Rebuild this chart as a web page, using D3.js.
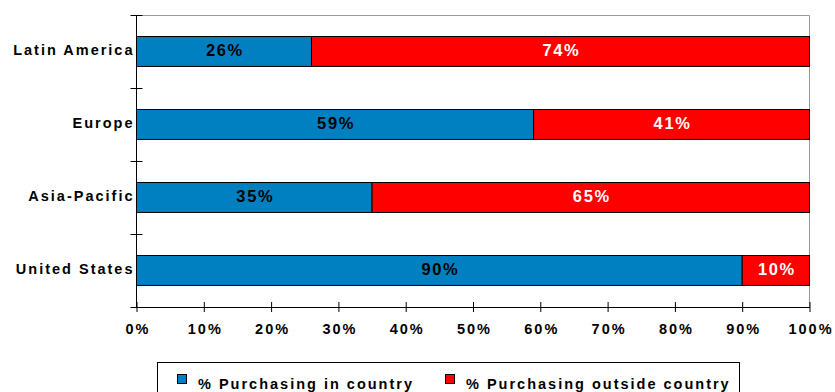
<!DOCTYPE html>
<html>
<head>
<meta charset="utf-8">
<script src="https://cdn.jsdelivr.net/npm/d3@7"></script>
<style>
  body { margin: 0; background: #fff; }
  svg { display: block; font-family: "Liberation Sans", Arial, sans-serif; font-weight: bold; }
</style>
</head>
<body>
<div id="chart"></div>
<script>
// Données
const regions   = ["Latin America", "Europe", "Asia-Pacific", "United States"];
const inCountry  = [26, 59, 35, 90];
const outCountry = [74, 41, 65, 10];
const xTicks = [0, 10, 20, 30, 40, 50, 60, 70, 80, 90, 100];
const seriesNames = ["% Purchasing in country", "% Purchasing outside country"];
const COLORS = ["#0080C0", "#FF0000"];
const TEXT_COLORS = ["#000", "#fff"];

const width = 835, height = 392;
const plotL = 136.5, plotR = 809.5, plotT = 15, plotB = 307;

const svg = d3.select("#chart").append("svg")
  .attr("width", width).attr("height", height);

const x = d3.scaleLinear().domain([0, 100]).range([plotL, plotR]);
const y = d3.scaleBand().domain(regions).range([plotT, plotB])
  .paddingInner(0.59).paddingOuter(0.295);

// cadre gris haut / droite
svg.append("path")
  .attr("d", `M${plotL},${plotT + 0.5}H${plotR}V${plotB}`)
  .attr("fill", "none").attr("stroke", "#999").attr("stroke-width", 1);

// segments empilés
const stacked = regions.map((r, i) => {
  const a = inCountry[i], b = outCountry[i];
  return [
    { region: r, s: 0, x0: 0, x1: a, v: a },
    { region: r, s: 1, x0: a, x1: a + b, v: b },
  ];
}).flat();

svg.append("g").selectAll("rect")
  .data(stacked)
  .join("rect")
    .attr("x", d => x(d.x0))
    .attr("y", d => Math.floor(y(d.region)) + 0.5)
    .attr("width", d => x(d.x1) - x(d.x0))
    .attr("height", y.bandwidth())
    .attr("fill", d => COLORS[d.s])
    .attr("stroke", "#000")
    .attr("stroke-width", 1);

svg.append("g").selectAll("text")
  .data(stacked)
  .join("text")
    .attr("x", d => (x(d.x0) + x(d.x1)) / 2 + 1)
    .attr("y", d => y(d.region) + y.bandwidth() / 2 - 1)
    .attr("dy", "0.36em")
    .attr("text-anchor", "middle")
    .attr("font-size", 16.5)
    .attr("letter-spacing", 1.6)
    .attr("fill", d => TEXT_COLORS[d.s])
    .text(d => d.v + "%");

// axe Y
svg.append("line")
  .attr("x1", plotL).attr("x2", plotL).attr("y1", plotT).attr("y2", plotB)
  .attr("stroke", "#000");
const bounds = d3.range(regions.length + 1).map(i => plotT + i * y.step());
svg.append("g").selectAll("line")
  .data(bounds)
  .join("line")
    .attr("x1", plotL - 6).attr("x2", plotL + 6)
    .attr("y1", d => Math.round(d) + 0.5).attr("y2", d => Math.round(d) + 0.5)
    .attr("stroke", "#000");

svg.append("g").selectAll("text")
  .data(regions)
  .join("text")
    .attr("x", plotL - 2)
    .attr("y", d => y(d) + y.bandwidth() / 2 - 2)
    .attr("dy", "0.36em")
    .attr("text-anchor", "end")
    .attr("font-size", 14.5)
    .attr("letter-spacing", 2)
    .text(d => d);

// axe X
const xAxis = svg.append("g")
  .attr("transform", `translate(0,${plotB})`)
  .call(d3.axisBottom(x).tickValues(xTicks).tickSize(5).tickSizeOuter(0)
    .tickFormat(d => d + "%"));
xAxis.select(".domain").attr("stroke", "#000");
xAxis.selectAll(".tick line").attr("y1", -5).attr("stroke", "#000");
xAxis.selectAll(".tick text")
  .attr("y", 17)
  .attr("dx", 1)
  .attr("font-size", 14.5)
  .attr("font-family", "Liberation Sans, Arial, sans-serif")
  .attr("font-weight", "bold")
  .attr("letter-spacing", 2)
  .attr("fill", "#000");

// légende
svg.append("rect")
  .attr("x", 157.5).attr("y", 362.5)
  .attr("width", 582).attr("height", 40)
  .attr("fill", "#fff").attr("stroke", "#000");

const legendX = [177, 445];
const lg = svg.append("g").selectAll("g")
  .data(seriesNames)
  .join("g")
    .attr("transform", (d, i) => `translate(${legendX[i]},0)`);
lg.append("rect")
  .attr("x", 0.5).attr("y", 374.5).attr("width", 9).attr("height", 9)
  .attr("fill", (d, i) => COLORS[i]).attr("stroke", "#000");
lg.append("text")
  .attr("x", 21).attr("y", 389)
  .attr("font-size", 14.5)
  .attr("letter-spacing", 2)
  .text(d => d);
</script>
</body>
</html>
